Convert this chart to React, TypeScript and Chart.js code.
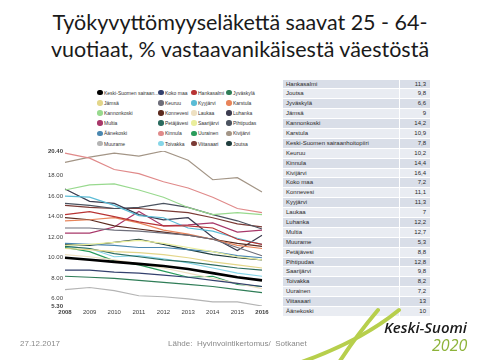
import React, { useEffect, useRef } from "react";
import { Chart, registerables } from "chart.js";
Chart.register(...registerables);

const years = ["2008", "2009", "2010", "2011", "2012", "2013", "2014", "2015", "2016"];
const yTicks = [5.3, 6, 8, 10, 12, 14, 16, 18, 20.4];

const keskiSuomenShp = [10.0, 9.8, 9.6, 9.4, 9.2, 8.9, 8.5, 8.1, 7.8];
const kokoMaa = [8.8, 8.8, 8.6, 8.5, 8.3, 8.1, 7.8, 7.5, 7.2];
const hankasalmi = [14.2, 14.5, 14.0, 13.5, 13.1, 13.1, 12.9, 11.8, 11.3];
const jyvaskyla = [8.2, 8.1, 8.0, 7.8, 7.6, 7.4, 7.2, 6.9, 6.6];
const jamsa = [10.9, 10.8, 10.6, 10.5, 10.3, 10.0, 9.6, 9.3, 9.0];
const keuruu = [12.9, 12.9, 12.7, 12.6, 12.4, 12.2, 11.8, 11.0, 10.2];
const kyyjarvi = [16.0, 15.9, 15.1, 14.1, 13.9, 12.9, 12.6, 11.9, 11.3];
const karstula = [13.6, 13.7, 13.9, 13.4, 12.7, 12.3, 11.8, 11.2, 10.9];
const kannonkoski = [16.6, 17.1, 17.2, 16.6, 15.9, 14.9, 14.2, 14.4, 14.2];
const konnevesi = [13.9, 13.7, 13.1, 12.8, 12.5, 12.2, 11.8, 11.4, 11.1];
const laukaa = [10.3, 10.1, 9.8, 9.4, 9.0, 8.5, 8.0, 7.5, 7.0];
const luhanka = [16.7, 15.5, 15.3, 14.2, 13.7, 13.9, 12.0, 10.7, 12.2];
const multia = [12.4, 12.4, 13.0, 14.5, 13.1, 13.2, 13.4, 12.5, 12.7];
const petajavesi = [11.1, 10.9, 10.4, 10.1, 9.8, 9.6, 9.3, 9.0, 8.8];
const saarijarvi = [11.2, 11.3, 11.5, 11.7, 11.4, 11.0, 10.6, 10.1, 9.8];
const pihtipudas = [15.3, 15.1, 14.8, 14.9, 15.3, 14.9, 14.2, 13.6, 12.8];
const aanekoski = [11.4, 11.3, 11.2, 11.0, 11.0, 10.8, 10.6, 10.2, 10.0];
const kinnula = [20.2, 19.7, 18.6, 18.2, 17.4, 16.8, 15.9, 14.8, 14.4];
const uurainen = [11.0, 10.6, 9.7, 9.3, 8.7, 8.1, 8.2, 7.4, 7.2];
const kivijarvi = [19.3, 19.8, 20.2, 19.9, 20.4, 19.5, 17.6, 17.8, 16.4];
const muurame = [6.9, 7.1, 6.8, 6.3, 6.2, 6.0, 5.7, 5.7, 5.3];
const toivakka = [11.1, 10.9, 10.1, 10.2, 9.9, 9.5, 9.0, 8.5, 8.2];
const viitasaari = [15.1, 14.9, 14.8, 14.8, 14.6, 14.4, 13.9, 13.3, 13.0];
const joutsa = [11.3, 11.2, 11.5, 11.8, 11.3, 10.8, 10.3, 10.0, 9.8];

const seriesNames = [
  "Keski-Suomen sairaanhoitopiiri", "Koko maa", "Hankasalmi", "Jyväskylä",
  "Jämsä", "Keuruu", "Kyyjärvi", "Karstula",
  "Kannonkoski", "Konnevesi", "Laukaa", "Luhanka",
  "Multia", "Petäjävesi", "Saarijärvi", "Pihtipudas",
  "Äänekoski", "Kinnula", "Uurainen", "Kivijärvi",
  "Muurame", "Toivakka", "Viitasaari", "Joutsa",
];
const seriesValues = [
  keskiSuomenShp, kokoMaa, hankasalmi, jyvaskyla,
  jamsa, keuruu, kyyjarvi, karstula,
  kannonkoski, konnevesi, laukaa, luhanka,
  multia, petajavesi, saarijarvi, pihtipudas,
  aanekoski, kinnula, uurainen, kivijarvi,
  muurame, toivakka, viitasaari, joutsa,
];
const seriesColors = [
  "#000000", "#33416e", "#b83434", "#2f7d57",
  "#e3d68a", "#6e6e7a", "#5bbcd6", "#e8845a",
  "#98d98e", "#5c2a1e", "#eee0c2", "#3b3b4f",
  "#a8386a", "#2b6b5f", "#eaee9c", "#4b5360",
  "#4a87b0", "#e08a8a", "#2a9d5c", "#a39586",
  "#b4b4b4", "#86d6e8", "#7b3b36", "#1f3d3d",
];

const tableOrder = [
  "Hankasalmi", "Joutsa", "Jyväskylä", "Jämsä", "Kannonkoski", "Karstula",
  "Keski-Suomen sairaanhoitopiiri", "Keuruu", "Kinnula", "Kivijärvi", "Koko maa",
  "Konnevesi", "Kyyjärvi", "Laukaa", "Luhanka", "Multia", "Muurame", "Petäjävesi",
  "Pihtipudas", "Saarijärvi", "Toivakka", "Uurainen", "Viitasaari", "Äänekoski",
];

const tickFont = "'Liberation Sans', Arial, sans-serif";

export default function App() {
  const ref = useRef<HTMLCanvasElement | null>(null);
  useEffect(() => {
    if (!ref.current) return;
    const chart = new Chart(ref.current, {
      type: "line",
      data: {
        labels: years,
        datasets: seriesNames.map((n, i) => ({
          label: n,
          data: seriesValues[i],
          borderColor: seriesColors[i],
          backgroundColor: seriesColors[i],
          borderWidth: i === 0 ? 2.6 : 1.2,
          pointRadius: 0,
          tension: 0,
          fill: false,
        })),
      },
      options: {
        animation: false,
        responsive: false,
        maintainAspectRatio: false,
        layout: { padding: { top: 6, right: 18, left: 0, bottom: 0 } },
        plugins: { legend: { display: false }, tooltip: { enabled: false } },
        scales: {
          x: {
            type: "category",
            offset: false,
            grid: { display: false, drawTicks: false },
            border: { display: false },
            ticks: {
              padding: 3,
              maxRotation: 0,
              autoSkip: false,
              color: "#404040",
              font: (ctx: any) => ({
                family: tickFont,
                size: 6,
                weight: ctx.index === 0 || ctx.index === years.length - 1 ? "bold" : "normal",
              }),
            },
            afterFit: (s: any) => {
              s.height = 19;
            },
          },
          y: {
            min: 5.3,
            max: 20.4,
            grid: { display: false, drawTicks: false },
            border: { display: false },
            afterBuildTicks: (s: any) => {
              s.ticks = yTicks.map((v) => ({ value: v }));
            },
            ticks: {
              padding: 2,
              color: "#404040",
              callback: (v: any) => Number(v).toFixed(2),
              font: (ctx: any) => ({
                family: tickFont,
                size: 6,
                weight: ctx.index === 0 || ctx.index === yTicks.length - 1 ? "bold" : "normal",
              }),
            },
            afterFit: (s: any) => {
              s.width = 25;
            },
          },
        },
      },
    });
    return () => chart.destroy();
  }, []);

  const legendLabel = (n: string) => (n.length > 20 ? n.slice(0, 20) + "..." : n);

  return (
    <div style={{ position: "absolute", left: 0, top: 0, width: 480, height: 360, background: "#fff", overflow: "hidden", fontFamily: tickFont }}>
      <div style={{ position: "absolute", left: 0, top: 9, width: 480, textAlign: "center", fontFamily: "Lato, 'Open Sans', sans-serif", fontSize: 21.5, lineHeight: "27px", color: "#1a1a1a" }}>
        <div>Työkyvyttömyyseläkettä saavat 25 - 64-</div>
        <div>vuotiaat, % vastaavanikäisestä väestöstä</div>
      </div>

      <div style={{ position: "absolute", left: 97, top: 87.5, display: "grid", gridTemplateColumns: "61px 33px 35px 44px", gridAutoRows: "10.2px", fontSize: 5, color: "#333" }}>
        {seriesNames.map((n, i) => (
          <div key={n} style={{ display: "flex", alignItems: "center", whiteSpace: "nowrap" }}>
            <span style={{ display: "inline-block", width: 5.5, height: 5.5, borderRadius: "50%", background: seriesColors[i], marginRight: 1.5, flex: "none" }} />
            <span>{legendLabel(n)}</span>
          </div>
        ))}
      </div>

      <canvas ref={ref} width={240} height={180} style={{ position: "absolute", left: 40, top: 145, width: 240, height: 180 }} />

      <div style={{ position: "absolute", left: 283, top: 79.5, width: 147, fontSize: 6, color: "#2a2a2a" }}>
        {tableOrder.map((n, i) => {
          const v = seriesValues[seriesNames.indexOf(n)];
          const last = v[v.length - 1];
          return (
            <div key={n} style={{ display: "flex", height: 9.9, boxSizing: "border-box", borderBottom: "1px solid #fff", background: i % 2 === 0 ? "#d9dee8" : "#e9ecf2" }}>
              <div style={{ width: 113, paddingLeft: 3, lineHeight: "9px", borderRight: "1.5px solid #fff", whiteSpace: "nowrap" }}>{n}</div>
              <div style={{ flex: 1, textAlign: "right", paddingRight: 4, lineHeight: "9px" }}>{String(last).replace(".", ",")}</div>
            </div>
          );
        })}
      </div>

      <svg width={480} height={360} style={{ position: "absolute", left: 0, top: 0, pointerEvents: "none" }}>
        <path d="M 399 310 Q 360 342 296 364" stroke="#b7cf4c" strokeWidth={4} fill="none" strokeLinecap="round" />
        <path d="M 378 310 Q 356 336 338 364" stroke="#b7cf4c" strokeWidth={4} fill="none" strokeLinecap="round" />
      </svg>

      <div style={{ position: "absolute", left: 20, top: 339, fontSize: 8, color: "#8a8a8a" }}>27.12.2017</div>
      <div style={{ position: "absolute", left: 168, top: 339, fontSize: 8, color: "#8a8a8a", whiteSpace: "pre" }}>Lähde:  Hyvinvointikertomus/  Sotkanet</div>
      <div style={{ position: "absolute", left: 384, top: 318, fontFamily: "'Open Sans', sans-serif", fontStyle: "italic", fontWeight: 600, fontSize: 15, color: "#1a1a1a", lineHeight: "18px" }}>Keski-Suomi</div>
      <div style={{ position: "absolute", left: 432, top: 336, fontFamily: "'Open Sans', sans-serif", fontStyle: "italic", fontSize: 16, color: "#8db33a", lineHeight: "19px" }}>2020</div>
    </div>
  );
}
